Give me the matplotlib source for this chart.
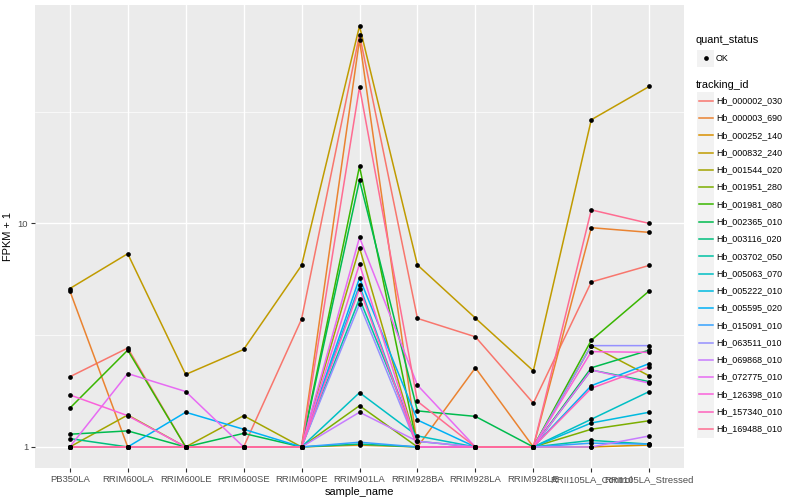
import numpy as np
import matplotlib
matplotlib.use("Agg")
import matplotlib.pyplot as plt
from matplotlib.lines import Line2D
from matplotlib.patches import Rectangle

plt.rcParams["font.family"] = ["Liberation Sans", "DejaVu Sans"]

samples = ["PB350LA", "RRIM600LA", "RRIM600LE", "RRIM600SE", "RRIM600PE", "RRIM901LA",
           "RRIM928BA", "RRIM928LA", "RRIM928LE", "RRII105LA_Control", "RRII105LA_Stressed"]

tracking_ids = ["Hb_000002_030", "Hb_000003_690", "Hb_000252_140", "Hb_000832_240",
                "Hb_001544_020", "Hb_001951_280", "Hb_001981_080", "Hb_002365_010",
                "Hb_003116_020", "Hb_003702_050", "Hb_005063_070", "Hb_005222_010",
                "Hb_005595_020", "Hb_015091_010", "Hb_063511_010", "Hb_069868_010",
                "Hb_072775_010", "Hb_126398_010", "Hb_157340_010", "Hb_169488_010"]

colors = ["#F8766D", "#EA8331", "#D89000", "#C09B00", "#A3A500", "#7CAE00", "#39B600",
          "#00BB4E", "#00BF7D", "#00C1A3", "#00BFC4", "#00BAE0", "#00B0F6", "#35A2FF",
          "#9590FF", "#C77CFF", "#E76BF3", "#FA62DB", "#FF62BC", "#FF6C91"]

# FPKM + 1 per sample, one list per tracking_id (same order as tracking_ids)
fpkm = [
    [2.06, 2.77, 1, 1, 3.73, 69.9, 3.76, 3.11, 1.57, 5.47, 6.49],
    [5.0, 1, 1, 1, 1, 66.3, 1, 2.26, 1, 9.57, 9.12],
    [1, 1, 1, 1, 1, 1.02, 1, 1, 1, 1.0, 1.02],
    [5.11, 7.32, 2.11, 2.73, 6.49, 76.4, 6.52, 3.77, 2.19, 29.1, 41.0],
    [1, 1.39, 1, 1.38, 1, 7.79, 1, 1, 1, 2.84, 2.08],
    [1, 1, 1, 1, 1, 1.53, 1, 1, 1, 1.20, 1.31],
    [1.49, 2.71, 1, 1, 1, 18.0, 1, 1, 1, 3.0, 4.99],
    [1.14, 1.18, 1, 1.15, 1, 15.6, 1.45, 1.37, 1, 2.26, 2.71],
    [1.09, 1, 1, 1, 1, 1.03, 1, 1, 1, 2.21, 1.96],
    [1, 1, 1, 1, 1, 4.61, 1.06, 1, 1, 1.07, 1.03],
    [1, 1, 1, 1, 1, 1.75, 1.12, 1, 1, 1.33, 1.77],
    [1, 1, 1, 1, 1, 5.29, 1, 1, 1, 1.28, 1.43],
    [1, 1, 1.43, 1.20, 1, 5.70, 1.32, 1, 1, 1.88, 2.36],
    [1, 1, 1, 1, 1, 1.05, 1, 1, 1, 1.04, 1.03],
    [1, 1, 1, 1, 1, 4.35, 1, 1, 1, 2.84, 2.84],
    [1, 1, 1, 1, 1, 1.43, 1.06, 1, 1, 1.0, 1.12],
    [1, 2.13, 1.77, 1, 1, 8.66, 1.89, 1, 1, 2.21, 1.93],
    [1.71, 1.38, 1, 1, 1, 6.58, 1, 1, 1, 2.67, 2.65],
    [1, 1, 1, 1, 1, 5.11, 1.0, 1, 1, 1.83, 2.28],
    [1, 1, 1, 1, 1, 40.8, 1.60, 1, 1, 11.5, 10.0],
]

W, H = 800, 500
fig = plt.figure(figsize=(8, 5), dpi=100)
# panel in pixels: left 35, right 684, top 5, bottom 468
ax = fig.add_axes([35 / W, 1 - 468 / H, (684 - 35) / W, (468 - 5) / H])
ax.set_facecolor("#EBEBEB")
for s in ax.spines.values():
    s.set_visible(False)

x = np.arange(len(samples))
for vals, c in zip(fpkm, colors):
    ax.plot(x, vals, color=c, lw=1.1, zorder=2, solid_capstyle="butt")
for vals in fpkm:
    ax.plot(x, vals, "o", color="black", ms=3.4, zorder=3, mec="none")

ax.set_yscale("log")
lo, hi = 0.0, np.log10(max(max(v) for v in fpkm))
pad = (hi - lo) * 0.05
ax.set_ylim(10 ** (lo - pad), 10 ** (hi + pad))
ax.set_xlim(-0.6, len(samples) - 1 + 0.6)

ax.set_yticks([1, 10])
ax.set_yticklabels(["1", "10"])
ax.yaxis.set_minor_locator(matplotlib.ticker.NullLocator())
ax.set_xticks(x)
ax.set_xticklabels(samples)
ax.tick_params(axis="both", length=3, width=0.8, color="#333333", labelcolor="#4D4D4D",
               labelsize=6.8, pad=2)

# gridlines
for yv in [1, 10, 100]:
    ax.axhline(yv, color="white", lw=1.0, zorder=1)
for yv in [10 ** 0.5, 10 ** 1.5]:
    ax.axhline(yv, color="white", lw=0.5, zorder=1)
for xv in x:
    ax.axvline(xv, color="white", lw=1.0, zorder=1)

ax.set_xlabel("sample_name", fontsize=7.9, labelpad=2)
ax.set_ylabel("FPKM + 1", fontsize=7.9, labelpad=3)

# legends, drawn by hand in pixel coordinates
def fx(px):
    return px / W

def fy(py):
    return 1 - py / H

key_w, key_h = 17.28, 17.28
kx = 697
fig.text(fx(696), fy(40), "quant_status", fontsize=7.9, va="center", ha="left")
fig.patches.append(Rectangle((fx(kx), fy(58.3 + key_h / 2)), key_w / W, key_h / H,
                             transform=fig.transFigure, color="#F2F2F2", lw=0))
fig.lines.append(Line2D([fx(kx + key_w / 2)], [fy(58.3)], marker="o", color="black", ms=3.4,
                        mec="none", transform=fig.transFigure))
fig.text(fx(716), fy(58.3), "OK", fontsize=6.4, va="center", ha="left")

fig.text(fx(696), fy(85), "tracking_id", fontsize=7.9, va="center", ha="left")
for i, (tid, c) in enumerate(zip(tracking_ids, colors)):
    yc = 100.7 + i * 17.28
    fig.patches.append(Rectangle((fx(kx), fy(yc + key_h / 2)), key_w / W, key_h / H,
                                 transform=fig.transFigure, color="#F2F2F2", lw=0))
    fig.lines.append(Line2D([fx(kx + 1.5), fx(kx + key_w - 1.5)], [fy(yc), fy(yc)], color=c,
                            lw=1.1, transform=fig.transFigure))
    fig.text(fx(716), fy(yc), tid, fontsize=6.4, va="center", ha="left")

fig.savefig("out.png", dpi=100)
